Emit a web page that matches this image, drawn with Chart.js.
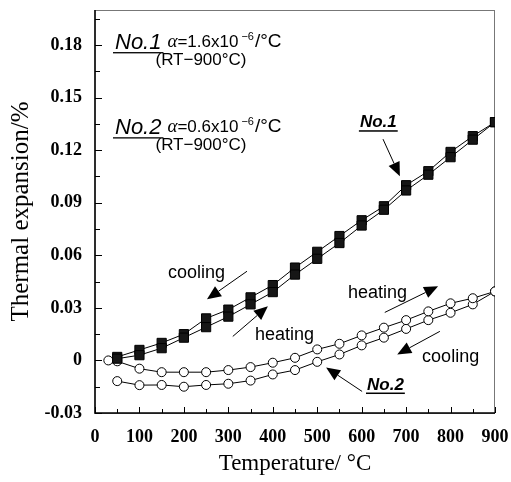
<!DOCTYPE html>
<html>
<head>
<meta charset="utf-8">
<script src="https://cdn.jsdelivr.net/npm/chart.js@4/dist/chart.umd.min.js"></script>
<style>
  html, body { margin: 0; padding: 0; background: #fff; }
  #wrap { width: 511px; height: 482px; }
</style>
</head>
<body>
<div id="wrap"><canvas id="c" width="511" height="482"></canvas></div>
<script>
// temperaturas (RT = 30)
var temps = [50, 100, 150, 200, 250, 300, 350, 400, 450, 500, 550, 600, 650, 700, 750, 800, 850, 900];
var temps2h = [30, 50, 100, 150, 200, 250, 300, 350, 400, 450, 500, 550, 600, 650, 700, 750, 800, 850, 900];

// No.1 (cuadrados)
var no1Heating = [0.001, 0.003, 0.007, 0.013, 0.019, 0.025, 0.032, 0.039, 0.049, 0.058, 0.067, 0.077, 0.086, 0.097, 0.106, 0.116, 0.126, 0.136];
var no1Cooling = [0.002, 0.006, 0.010, 0.015, 0.024, 0.029, 0.036, 0.043, 0.053, 0.062, 0.071, 0.080, 0.088, 0.100, 0.108, 0.119, 0.128, 0.136];

// No.2 (circulos)
var no2Heating = [0, -0.0005, -0.0047, -0.0067, -0.0067, -0.0067, -0.0055, -0.0038, -0.0013, 0.0015, 0.0063, 0.0095, 0.0143, 0.0187, 0.023, 0.028, 0.0326, 0.0355, 0.0394];
var no2Cooling = [-0.0118, -0.0141, -0.014, -0.015, -0.014, -0.0133, -0.0115, -0.008, -0.0055, -0.0008, 0.0034, 0.0086, 0.013, 0.018, 0.023, 0.0272, 0.032, 0.0394];

var xTicks = [0, 100, 200, 300, 400, 500, 600, 700, 800, 900];
var yTicks = [-0.03, 0, 0.03, 0.06, 0.09, 0.12, 0.15, 0.18];

function pts(xs, ys) {
  return ys.map(function (v, i) { return { x: xs[i], y: v }; });
}

var sans = '"Liberation Sans", Arial, sans-serif';
var serif = '"Liberation Serif", "Times New Roman", serif';

// flechas y textos
var notes = [
  { text: 'cooling', x: 164, y: 0.0469, arrow: [342, 0.0509, 252, 0.0349] },
  { text: 'heating', x: 360, y: 0.0114, arrow: [310, 0.0137, 389, 0.0309] },
  { text: 'heating', x: 569, y: 0.0354, arrow: [652, 0.0274, 772, 0.0423] },
  { text: 'cooling', x: 736, y: -0.0011, arrow: [776, 0.0166, 680, 0.0034] },
  { text: 'No.2', x: 612, y: -0.0166, bold: true, arrow: [601, -0.0177, 520, -0.004] },
  { text: 'No.1', x: 596, y: 0.1331, bold: true, arrow: [648, 0.1263, 686, 0.1051] }
];

function arrow(ctx, x1, y1, x2, y2) {
  var a = Math.atan2(y2 - y1, x2 - x1);
  var L = 14, W = 6;
  var bx = x2 - L * Math.cos(a), by = y2 - L * Math.sin(a);
  ctx.beginPath();
  ctx.moveTo(x1, y1);
  ctx.lineTo(bx, by);
  ctx.lineWidth = 1;
  ctx.strokeStyle = '#000';
  ctx.stroke();
  ctx.beginPath();
  ctx.moveTo(x2, y2);
  ctx.lineTo(bx + W * Math.sin(a), by - W * Math.cos(a));
  ctx.lineTo(bx - W * Math.sin(a), by + W * Math.cos(a));
  ctx.closePath();
  ctx.fillStyle = '#000';
  ctx.fill();
}

var decor = {
  id: 'decor',
  beforeDatasetsDraw: function (chart) {
    var ctx = chart.ctx, a = chart.chartArea;
    var xs = chart.scales.x, ys = chart.scales.y;
    ctx.save();
    // marco
    ctx.strokeStyle = '#777';
    ctx.lineWidth = 1;
    ctx.strokeRect(a.left, a.top + 0.5, a.right - a.left - 0.5, a.bottom - a.top);
    ctx.strokeStyle = '#000';
    ctx.lineWidth = 1.5;
    ctx.beginPath();
    ctx.moveTo(a.left, a.top);
    ctx.lineTo(a.left, a.bottom);
    ctx.lineTo(a.right, a.bottom);
    ctx.stroke();
    // ticks hacia adentro
    ctx.lineWidth = 1;
    ctx.beginPath();
    for (var t = 0; t <= 900; t += 50) {
      var px = Math.round(xs.getPixelForValue(t)) + 0.5;
      var len = t % 100 === 0 ? 6 : 4;
      ctx.moveTo(px, a.bottom);
      ctx.lineTo(px, a.bottom - len);
    }
    for (var k = -2; k <= 13; k++) {
      var v = k * 0.015;
      var py = Math.round(ys.getPixelForValue(v)) + 0.5;
      var l2 = k % 2 === 0 ? 7 : 5;
      ctx.moveTo(a.left, py);
      ctx.lineTo(a.left + l2, py);
    }
    ctx.stroke();
    ctx.restore();
  },
  afterDatasetsDraw: function (chart) {
    var ctx = chart.ctx;
    var xs = chart.scales.x, ys = chart.scales.y;
    function X(v) { return xs.getPixelForValue(v); }
    function Y(v) { return ys.getPixelForValue(v); }
    ctx.save();
    ctx.fillStyle = '#000';
    ctx.textBaseline = 'alphabetic';
    ctx.textAlign = 'left';

    notes.forEach(function (n) {
      ctx.font = (n.bold ? 'italic bold 17px ' : '18px ') + sans;
      ctx.fillText(n.text, X(n.x), Y(n.y));
      if (n.bold) {
        var w = ctx.measureText(n.text).width;
        ctx.fillRect(X(n.x) - 1, Y(n.y) + 3, w + 2, 1.5);
      }
      arrow(ctx, X(n.arrow[0]), Y(n.arrow[1]), X(n.arrow[2]), Y(n.arrow[3]));
    });

    // encabezado
    function head(label, alpha, yv) {
      var x0 = X(45), y0 = Y(yv);
      ctx.font = 'italic 22px ' + sans;
      ctx.fillText(label, x0, y0);
      var w = ctx.measureText(label).width;
      ctx.fillRect(x0 - 2, y0 + 3, w + 4, 1.3);
      var x1 = x0 + w + 6, y1 = y0 - 2;
      ctx.font = 'italic 19px ' + serif;
      ctx.fillText('\u03b1', x1, y1);
      x1 += ctx.measureText('\u03b1').width;
      ctx.font = '17px ' + sans;
      var s = '=' + alpha + 'x10';
      ctx.fillText(s, x1, y1);
      x1 += ctx.measureText(s).width + 3;
      ctx.font = '11px ' + sans;
      ctx.fillText('\u22126', x1, y1 - 7);
      x1 += ctx.measureText('\u22126').width + 1;
      ctx.font = '19px ' + sans;
      ctx.fillText('/\u00b0C', x1, y1);
      ctx.font = '17px ' + sans;
      ctx.fillText('(RT\u2212900\u00b0C)', x0 + w - 6, y0 + 16);
    }
    head('No.1', '1.6', 0.1777);
    head('No.2', '0.6', 0.1291);
    ctx.restore();
  }
};

new Chart(document.getElementById('c'), {
  type: 'line',
  data: {
    datasets: [
      {
        label: 'No.1 heating',
        data: pts(temps, no1Heating),
        borderColor: '#000', borderWidth: 1,
        pointStyle: 'rect', pointRadius: 6.5,
        pointBackgroundColor: '#161616', pointBorderColor: '#000', pointBorderWidth: 1
      },
      {
        label: 'No.1 cooling',
        data: pts(temps, no1Cooling),
        borderColor: '#000', borderWidth: 1,
        pointStyle: 'rect', pointRadius: 6.5,
        pointBackgroundColor: '#161616', pointBorderColor: '#000', pointBorderWidth: 1
      },
      {
        label: 'No.2 heating',
        data: pts(temps2h, no2Heating),
        borderColor: '#000', borderWidth: 1,
        pointStyle: 'circle', pointRadius: 4.5,
        pointBackgroundColor: '#fff', pointBorderColor: '#000', pointBorderWidth: 1
      },
      {
        label: 'No.2 cooling',
        data: pts(temps, no2Cooling),
        borderColor: '#000', borderWidth: 1,
        pointStyle: 'circle', pointRadius: 4.5,
        pointBackgroundColor: '#fff', pointBorderColor: '#000', pointBorderWidth: 1
      }
    ]
  },
  options: {
    responsive: false,
    animation: false,
    events: [],
    layout: { padding: { top: 10, right: 16, left: 0, bottom: 0 } },
    plugins: { legend: { display: false }, tooltip: { enabled: false } },
    scales: {
      x: {
        type: 'linear', min: 0, max: 900,
        afterFit: function (s) { s.height = 69; s.paddingLeft = 0; s.paddingRight = 0; },
        afterBuildTicks: function (s) { s.ticks = xTicks.map(function (v) { return { value: v }; }); },
        grid: { display: false, drawTicks: false },
        border: { display: false },
        ticks: {
          padding: 14, color: '#000', maxRotation: 0, autoSkip: false,
          font: { family: serif, size: 18, weight: 'bold' }
        },
        title: {
          display: true, text: 'Temperature/ \u00b0C', color: '#000',
          font: { family: serif, size: 23 }, padding: { top: 3 }
        }
      },
      y: {
        type: 'linear', min: -0.03, max: 0.2,
        afterFit: function (s) { s.width = 95; s.paddingTop = 0; s.paddingBottom = 0; },
        afterBuildTicks: function (s) { s.ticks = yTicks.map(function (v) { return { value: v }; }); },
        grid: { display: false, drawTicks: false },
        border: { display: false },
        ticks: {
          padding: 13, color: '#000',
          font: { family: serif, size: 18, weight: 'bold' },
          callback: function (v) { return v === 0 ? '0' : v.toFixed(2); }
        },
        title: {
          display: true, text: 'Thermal expansion/%', color: '#000',
          font: { family: serif, size: 25 }, padding: { top: 6, bottom: 0 }
        }
      }
    }
  },
  plugins: [decor]
});
</script>
</body>
</html>
